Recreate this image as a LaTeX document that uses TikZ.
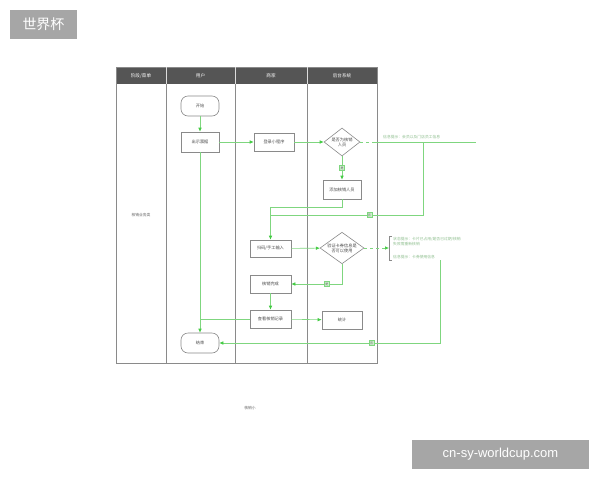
\documentclass[tikz,border=0pt]{standalone}
\usepackage{fontspec}
\setmainfont{Liberation Sans}
\newfontfamily\cjk{Noto Sans CJK SC}
\usetikzlibrary{shapes.geometric,arrows.meta}
\definecolor{grid}{HTML}{8A8A8A}
\definecolor{head}{HTML}{555555}
\definecolor{flow}{HTML}{7FD67F}
\definecolor{tip}{HTML}{44CC44}
\definecolor{note}{HTML}{8FBF8F}
\definecolor{mark}{HTML}{A6A6A6}
\tikzset{
  box/.style={draw=grid, line width=0.6pt, fill=white, minimum width=40pt, minimum height=19pt, inner sep=1pt, font=\cjk\fontsize{4.2}{5}\selectfont, text=black!70},
  term/.style={box, rounded corners=7pt},
  dia/.style={draw=grid, line width=0.6pt, fill=white, diamond, aspect=1.3, inner sep=0pt, font=\cjk\fontsize{4.2}{5}\selectfont, text=black!70, align=center},
  fl/.style={draw=flow, line width=0.6pt},
  fla/.style={fl, -{Latex[length=4pt,width=3.5pt,color=tip]}},
  dl/.style={fl, dashed, dash pattern=on 3pt off 3pt},
  tag/.style={draw=flow, fill=flow!40, minimum size=5pt, inner sep=0pt, font=\cjk\fontsize{3}{3}\selectfont, text=black!60},
  notet/.style={font=\cjk\fontsize{3.8}{4.5}\selectfont, text=note, anchor=west, inner sep=0pt},
  hd/.style={font=\cjk\fontsize{4.6}{5}\selectfont, text=white},
  wm/.style={fill=mark, text=white, inner sep=0pt}
}
\begin{document}
\begin{tikzpicture}[x=1pt,y=-1pt]
\useasboundingbox (0,0) rectangle (600,480);
\fill[white] (0,0) rectangle (600,480);
% watermarks
\node[wm, minimum width=67pt, minimum height=29pt, font=\cjk\fontsize{14}{16}\selectfont] (wm1) at (43.5,24.5) {世界杯};
\node[wm, minimum width=177pt, minimum height=29pt, font=\fontsize{13}{15}\selectfont] (wm2) at (500.5,454.5) {cn-sy-worldcup.com};
% table
\fill[head] (116,67) rectangle (377,84);
\draw[grid, line width=0.6pt] (116,67) rectangle (377,363);
\foreach \x in {166,235,307} \draw[grid, line width=0.6pt] (\x,67) -- (\x,363);
\draw[white!70!grid, line width=0.4pt] (166,67) -- (166,84) (235,67) -- (235,84) (307,67) -- (307,84);
\node[hd] (h1) at (141,75.5) {阶段/菜单};
\node[hd] (h2) at (200.5,75.5) {用户};
\node[hd] (h3) at (271,75.5) {商家};
\node[hd] (h4) at (342,75.5) {后台系统};
\node[font=\cjk\fontsize{3.8}{4.5}\selectfont, text=black!60] (lane) at (141,215) {核销业务类};
\node[font=\cjk\fontsize{3.8}{4.5}\selectfont, text=black!60] (foot) at (250,408) {核销小};
% nodes
\node[term, minimum width=38pt, minimum height=20pt] (start) at (200,106) {开始};
\node[box, minimum width=38pt, minimum height=20pt] (show) at (200,142) {出示票据};
\node[box, minimum width=40pt, minimum height=18pt] (login) at (274,142) {登录小程序};
\node[dia, minimum width=36pt, minimum height=28pt] (isop) at (342,142) {是否为核销\\人员};
\node[box, minimum width=38pt, minimum height=19pt] (add) at (342,189.5) {添加核销人员};
\node[box, minimum width=41pt, minimum height=17pt] (scan) at (270.5,248.5) {扫码/手工输入};
\node[dia, minimum width=44pt, minimum height=28pt] (check) at (342,248) {验证卡券信息是\\否可以使用};
\node[box, minimum width=41pt, minimum height=18pt] (done) at (270.5,284) {核销完成};
\node[box, minimum width=41pt, minimum height=18pt] (rec) at (270.5,319) {查看核销记录};
\node[box, minimum width=40pt, minimum height=18pt] (stat) at (342,320) {统计};
\node[term, minimum width=38pt, minimum height=20pt] (end) at (200,343) {结束};
% notes
\coordinate (n1s) at (375,142);
\coordinate (n1e) at (476,142);
\coordinate (n1d) at (423,142);
\node[notet] (note1) at (383,137.5) {信息提示：会员以及门店员工信息};
\coordinate (br) at (389,248);
\node[notet, align=left] (note2) at (393,241.5) {状态提示：卡片已占用/是否已过期/核销\\失败需重新核销};
\node[notet] (note3) at (393,257) {信息提示：卡券使用信息};
\draw[grid, line width=0.5pt] (392,236) -- (389,236) -- (389,260) -- (392,260);
\coordinate (n3d) at (440,260);
% connectors
\draw[fla] (start) -- (show);
\draw[fla] (show) -- (login);
\draw[fla] (login) -- (isop);
\draw[dl] (isop.east) -- (n1s);
\draw[fl] (n1s) -- (n1e);
\draw[fla] (isop) -- (add) node[tag, pos=0.5] (t1) {是};
\draw[fla] (add.south) -- ++(0,8) -| (scan.north);
\draw[fl] (n1d) |- (270,215) node[tag, pos=0.675] (t2) {否};
\draw[fla] (scan) -- (check);
\draw[dl, -{Latex[length=4pt,width=3.5pt,color=tip]}] (check.east) -- (br);
\draw[fla] (check.south) |- (done.east) node[tag, pos=0.65] (t3) {是};
\draw[fla] (done) -- (rec);
\draw[fla] (rec) -- (stat);
\draw[fl] (rec.west) -- (200,319);
\draw[fla] (show) -- (end);
\draw[fla] (n3d) |- (end.east) node[tag, pos=0.655] (t4) {否};
\end{tikzpicture}
\end{document}
